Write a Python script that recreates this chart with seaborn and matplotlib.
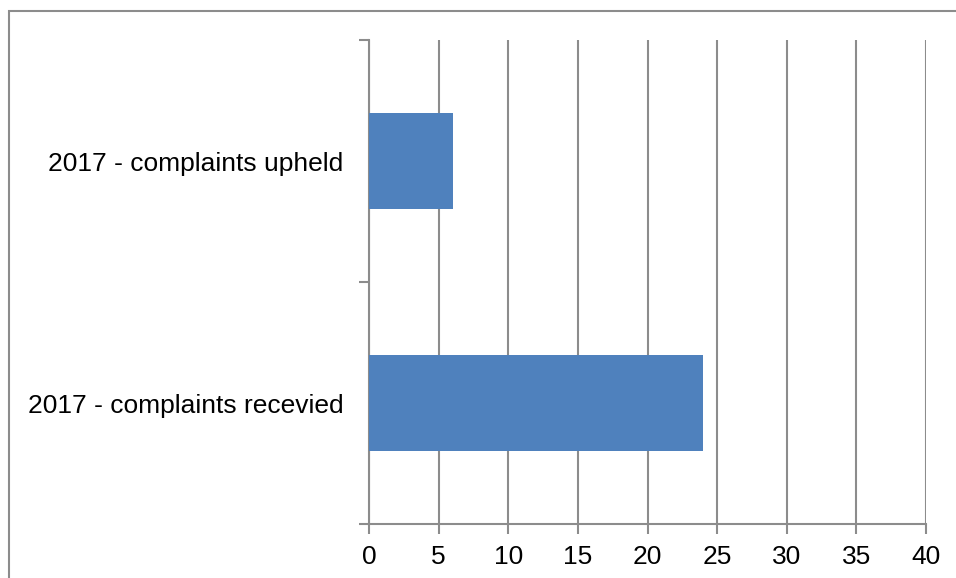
import matplotlib
matplotlib.use("Agg")
import matplotlib.pyplot as plt
import seaborn as sns
import pandas as pd
from matplotlib.patches import Rectangle

categories = ["2017 - complaints upheld", "2017 - complaints recevied"]
values = [6, 24]
x_ticks = [0, 5, 10, 15, 20, 25, 30, 35, 40]

sns.set_theme(style="white")
plt.rcParams["font.family"] = ["Liberation Sans", "DejaVu Sans"]

W, H = 956, 578
fig = plt.figure(figsize=(W / 100, H / 100), dpi=100)
ax = fig.add_axes([369 / W, 1 - 524 / H, (926 - 369) / W, (524 - 40) / H])

df = pd.DataFrame({"cat": categories, "val": values})
sns.barplot(data=df, y="cat", x="val", orient="h", order=categories,
            color="#4F81BD", saturation=1, width=0.4, ax=ax, zorder=3,
            linewidth=0)

grey = "#8C8C8C"
ax.set_xlim(0, 40)
ax.set_ylim(1.5, -0.5)
ax.set_xticks(x_ticks)
ax.set_xticklabels([str(t) for t in x_ticks])
ax.xaxis.grid(True, color=grey, linewidth=1.5, zorder=0)
ax.yaxis.grid(False)
ax.set_axisbelow(True)
ax.set_xlabel("")
ax.set_ylabel("")

for s in ["top", "right"]:
    ax.spines[s].set_visible(False)
for s in ["left", "bottom"]:
    ax.spines[s].set_color(grey)
    ax.spines[s].set_linewidth(1.5)

ax.tick_params(axis="x", which="major", length=7, width=1.5, color=grey,
               labelsize=19, labelcolor="black", pad=8, bottom=True)
ax.set_yticks([0, 1])
ax.set_yticks([-0.5, 0.5, 1.5], minor=True)
ax.tick_params(axis="y", which="major", length=0, labelsize=19,
               labelcolor="black", pad=18.5)
ax.tick_params(axis="y", which="minor", length=7, width=1.5, color=grey, left=True)

fig.patches.append(Rectangle((9 / W, -0.1), 1.2, 1 - 11 / H + 0.1,
                             transform=fig.transFigure, fill=False,
                             edgecolor=grey, linewidth=1.5))

fig.savefig("out.png", dpi=100)
